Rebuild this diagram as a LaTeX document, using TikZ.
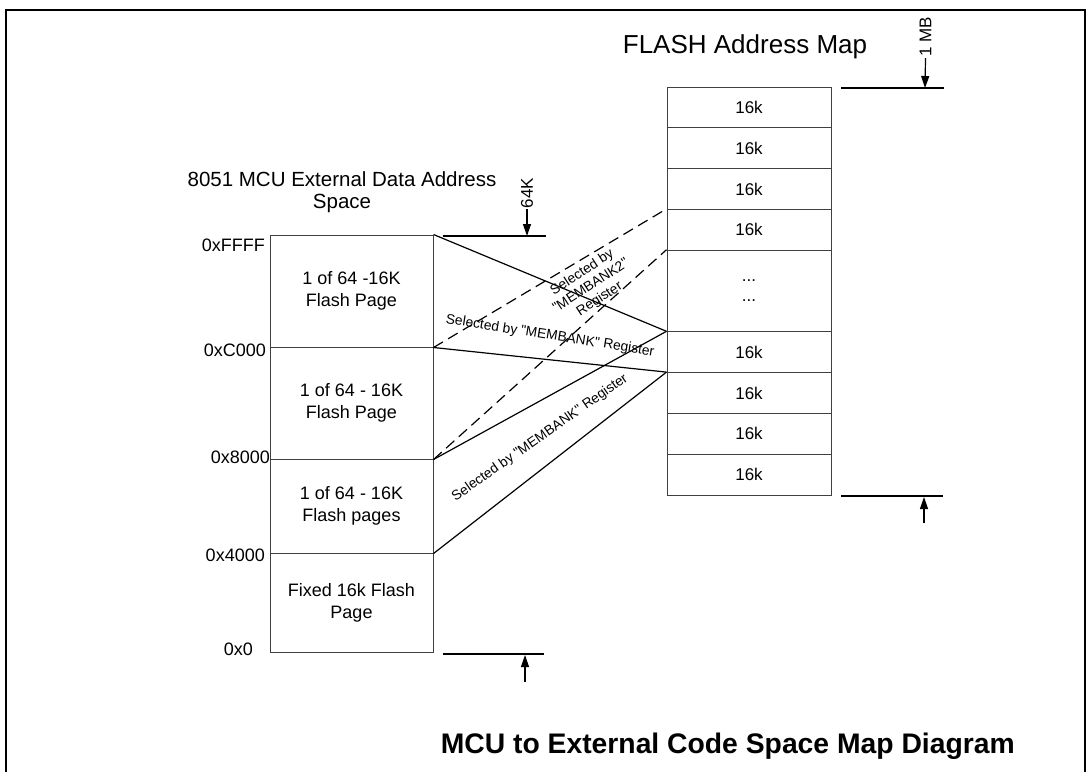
\documentclass[tikz,border=0pt]{standalone}
\usepackage{fontspec}
\setmainfont{Liberation Sans}[Ligatures=TeXOff]
\usetikzlibrary{arrows.meta}
\begin{document}
\begin{tikzpicture}[x=1pt,y=-1pt,
  box/.style={draw=black!75, line width=1pt, minimum width=163pt, inner sep=0pt, align=center, font=\fontsize{18}{22}\selectfont},
  rbox/.style={draw=black!75, line width=1pt, minimum width=164pt, minimum height=40.8pt, inner sep=0pt, align=center, font=\fontsize{17}{20}\selectfont},
  addr/.style={anchor=east, inner sep=0pt, font=\fontsize{18}{22}\selectfont},
  link/.style={line width=1.2pt},
  dlink/.style={line width=1.2pt, dash pattern=on 11pt off 6pt},
  sel/.style={inner sep=0pt, align=center, font=\fontsize{13.8}{16}\selectfont},
  marker/.style={line width=1.6pt},
  marktxt/.style={rotate=90, inner sep=1pt, font=\fontsize{17}{20}\selectfont},
  markarrow/.style={line width=1.2pt, -{Triangle[length=12pt,width=8pt]}}]
\useasboundingbox (0,0) rectangle (1091,772);
\draw[line width=1.5pt] (6,772) -- (6,10) -- (1085,10) -- (1085,772);

% left address space
\node[font=\fontsize{20.5}{22}\selectfont, align=center, inner sep=0pt] (xdt) at (342,192) {8051 MCU External Data Address\\Space};
\node[box, minimum height=112pt] (b1) at (351.5,291) {1 of 64 -16K\\Flash Page};
\node[box, minimum height=112pt] (b2) at (351.5,403) {1 of 64 - 16K\\Flash Page};
\node[box, minimum height=94pt] (b3) at (351.5,506) {1 of 64 - 16K\\Flash pages};
\node[box, minimum height=99pt] (b4) at (351.5,602.5) {Fixed 16k Flash\\Page};

\node[addr] (a1) at (265,245) {0xFFFF};
\node[addr] (a2) at (266,350) {0xC000};
\node[addr] (a3) at (270,457) {0x8000};
\node[addr] (a4) at (265,555) {0x4000};
\node[addr] (a5) at (253,649) {0x0};

% right flash map
\node[font=\fontsize{26}{30}\selectfont, inner sep=0pt, anchor=base] (fam) at (745,53) {FLASH Address Map};
\node[rbox] (r1) at (749,107.4) {16k};
\node[rbox] (r2) at (749,148.2) {16k};
\node[rbox] (r3) at (749,189) {16k};
\node[rbox] (r4) at (749,229.8) {16k};
\node[rbox, minimum height=81.6pt] (r5) at (749,291) {...\\...};
\node[rbox] (r6) at (749,352.2) {16k};
\node[rbox] (r7) at (749,393) {16k};
\node[rbox] (r8) at (749,433.8) {16k};
\node[rbox] (r9) at (749,474.6) {16k};

% connectors
\draw[link] (b1.north east) -- (r6.north west);
\draw[link] (b1.south east) -- (r7.north west);
\draw[link] (b2.south east) -- (r6.north west);
\draw[link] (b3.south east) -- (r7.north west);
\draw[dlink] (b1.south east) -- (r4.north west);
\draw[dlink] (b2.south east) -- (r5.north west);

\node[sel, rotate=-9] (s1) at (550,336) {Selected by "MEMBANK" Register};
\node[sel, rotate=33] (s2) at (591,286) {Selected by\\"MEMBANK2"\\Register};
\node[sel, rotate=35] (s3) at (540,438) {Selected by "MEMBANK" Register};

% markers
\coordinate (m64a) at (443,236); \coordinate (m64b) at (546,236); \coordinate (m64t) at (527,236);
\draw[marker] (m64a) -- (m64b);
\node[marktxt] (t64) at (527,193) {64K};
\draw[markarrow] (t64.west) -- (m64t);

\coordinate (m1a) at (841,88); \coordinate (m1b) at (944,88); \coordinate (m1t) at (925,88);
\draw[marker] (m1a) -- (m1b);
\node[marktxt] (t1) at (925.5,37) {1 MB};
\draw[markarrow] (t1.west) -- (m1t);

\coordinate (m2a) at (841,496); \coordinate (m2b) at (943,496);
\coordinate (m2s) at (924,523); \coordinate (m2t) at (924,497);
\draw[marker] (m2a) -- (m2b);
\draw[markarrow] (m2s) -- (m2t);

\coordinate (m0a) at (443,654); \coordinate (m0b) at (544,654);
\coordinate (m0s) at (525,682); \coordinate (m0t) at (525,655);
\draw[marker] (m0a) -- (m0b);
\draw[markarrow] (m0s) -- (m0t);

\node[anchor=base east, font=\bfseries\fontsize{28.3}{32}\selectfont, inner sep=0pt] (title) at (1015,753) {MCU to External Code Space Map Diagram};
\end{tikzpicture}
\end{document}
